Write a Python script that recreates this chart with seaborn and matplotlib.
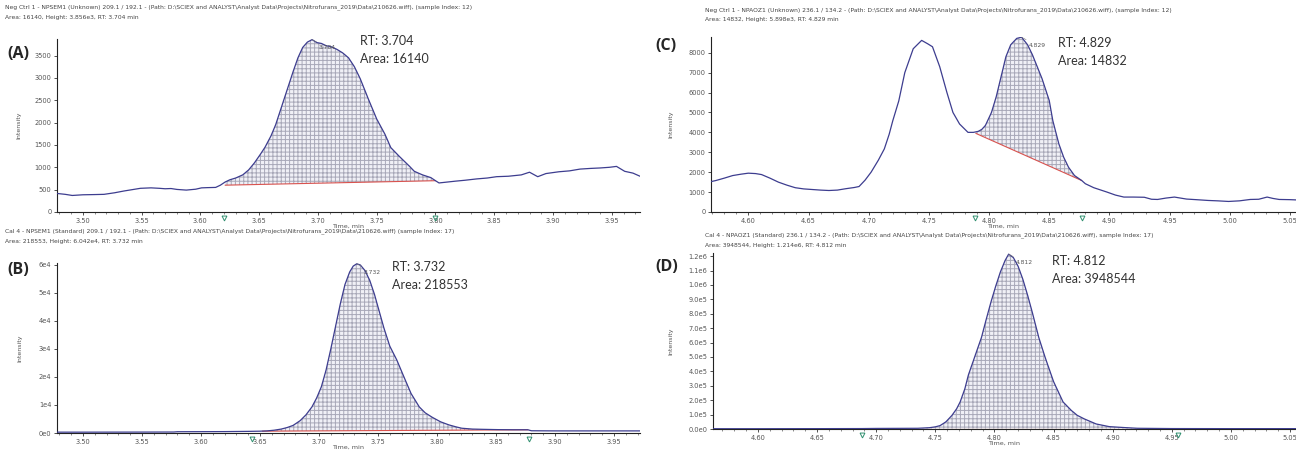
import numpy as np
import pandas as pd
import matplotlib
matplotlib.use("Agg")
import matplotlib.pyplot as plt
import matplotlib.transforms as mtransforms
import seaborn as sns
from matplotlib.ticker import MultipleLocator, AutoMinorLocator, FuncFormatter

# --- data (time [min], intensity [cps]) ---
a_trace = [(3.478, 415), (3.485, 395), (3.491, 370), (3.500, 385), (3.510, 390), (3.518, 395),
           (3.527, 430), (3.535, 470), (3.542, 500), (3.549, 530), (3.558, 540), (3.565, 530),
           (3.570, 520), (3.575, 525), (3.580, 505), (3.588, 490), (3.596, 510), (3.601, 540),
           (3.606, 545), (3.613, 550), (3.617, 600), (3.621, 670), (3.625, 720), (3.630, 760),
           (3.636, 830), (3.641, 940), (3.646, 1100), (3.651, 1290), (3.655, 1450), (3.660, 1700),
           (3.664, 1950), (3.669, 2350), (3.674, 2750), (3.679, 3150), (3.683, 3450), (3.687, 3680),
           (3.691, 3800), (3.695, 3856), (3.699, 3790), (3.703, 3770), (3.707, 3720), (3.711, 3700),
           (3.716, 3640), (3.721, 3560), (3.726, 3450), (3.731, 3250), (3.736, 2980), (3.743, 2520),
           (3.750, 2080), (3.757, 1740), (3.762, 1440), (3.769, 1250), (3.778, 1020), (3.782, 910),
           (3.789, 830), (3.796, 770), (3.800, 700), (3.803, 650), (3.810, 670), (3.817, 690),
           (3.825, 710), (3.835, 740), (3.844, 760), (3.852, 790), (3.862, 800), (3.873, 830),
           (3.880, 890), (3.887, 790), (3.894, 860), (3.905, 900), (3.914, 920), (3.923, 960),
           (3.932, 975), (3.940, 985), (3.948, 1000), (3.954, 1020), (3.961, 910), (3.968, 870),
           (3.974, 800)]

b_trace = [(3.478, 300), (3.500, 300), (3.540, 320), (3.577, 350), (3.580, 450), (3.620, 500),
           (3.640, 580), (3.650, 650), (3.656, 750), (3.662, 1000), (3.668, 1400), (3.673, 1950),
           (3.678, 2700), (3.684, 4400), (3.689, 6500), (3.694, 9300), (3.698, 12500), (3.702, 16500),
           (3.706, 22500), (3.710, 30000), (3.714, 38000), (3.718, 46000), (3.722, 53000),
           (3.726, 57500), (3.729, 59600), (3.732, 60420), (3.735, 60000), (3.739, 58000),
           (3.743, 54500), (3.747, 49500), (3.751, 43500), (3.755, 37500), (3.760, 31000),
           (3.766, 26000), (3.772, 20000), (3.778, 14100), (3.785, 9300), (3.790, 7200),
           (3.796, 5600), (3.803, 4000), (3.810, 2900), (3.816, 2200), (3.821, 1700), (3.830, 1400),
           (3.840, 1300), (3.852, 1200), (3.865, 1150), (3.877, 1150), (3.880, 800), (3.900, 750),
           (3.930, 750), (3.972, 750)]

c_trace = [(4.5615, 1530), (4.567, 1500), (4.573, 1580), (4.580, 1700), (4.587, 1830), (4.594, 1900),
           (4.600, 1950), (4.606, 1930), (4.611, 1880), (4.618, 1700), (4.625, 1500), (4.632, 1350),
           (4.639, 1220), (4.646, 1160), (4.653, 1130), (4.660, 1100), (4.667, 1080), (4.674, 1100),
           (4.681, 1170), (4.688, 1230), (4.692, 1280), (4.697, 1600), (4.702, 2000), (4.708, 2600),
           (4.713, 3170), (4.717, 3900), (4.720, 4580), (4.725, 5580), (4.730, 7000), (4.737, 8200),
           (4.744, 8620), (4.749, 8450), (4.753, 8300), (4.759, 7300), (4.765, 6000), (4.770, 5000),
           (4.7755, 4420), (4.7825, 4000), (4.787, 4000), (4.791, 4050), (4.794, 4150),
           (4.797, 4350), (4.802, 5000), (4.806, 5800), (4.810, 6800), (4.814, 7800),
           (4.818, 8400), (4.823, 8720), (4.827, 8780), (4.832, 8400), (4.836, 7900), (4.840, 7300),
           (4.844, 6700), (4.850, 5600), (4.853, 4580), (4.858, 3420), (4.862, 2750), (4.866, 2250),
           (4.871, 1830), (4.877, 1580), (4.880, 1420), (4.887, 1220), (4.898, 1000), (4.905, 850),
           (4.912, 750), (4.920, 750), (4.929, 740), (4.935, 640), (4.940, 630), (4.947, 700),
           (4.954, 750), (4.960, 690), (4.964, 650), (4.972, 620), (4.982, 580), (4.990, 560),
           (4.999, 530), (5.008, 560), (5.017, 630), (5.024, 640), (5.031, 750), (5.036, 680),
           (5.041, 630), (5.050, 620), (5.058, 600)]

d_trace = [(4.562, 2000), (4.600, 2000), (4.650, 2500), (4.688, 3000), (4.700, 4000), (4.720, 4500),
           (4.735, 5000), (4.745, 9000), (4.750, 15000), (4.754, 23500), (4.759, 50000),
           (4.764, 94000), (4.768, 140000), (4.771, 188000), (4.775, 280000), (4.778, 376000),
           (4.782, 470000), (4.785, 541000), (4.789, 635000), (4.793, 760000), (4.797, 880000),
           (4.801, 990000), (4.805, 1090000), (4.809, 1170000), (4.812, 1214000), (4.816, 1190000),
           (4.820, 1130000), (4.824, 1040000), (4.828, 930000), (4.832, 810000), (4.8375, 635000),
           (4.843, 494000), (4.850, 329000), (4.858, 188000), (4.865, 129000), (4.870, 95000),
           (4.876, 70000), (4.886, 35000), (4.897, 16500), (4.911, 9400), (4.921, 5000),
           (4.950, 3000), (5.000, 2500), (5.056, 2500)]

# integration baselines (start, end) and peak-marker positions
a_base = [(3.621, 600), (3.800, 700)]
b_base = [(3.652, 650), (3.877, 1150)]
c_base = [(4.789, 3950), (4.877, 1580)]
d_base = [(4.690, 3000), (4.955, 3000)]
a_marks = [3.620, 3.800]
b_marks = [3.643, 3.878]
c_marks = [4.788, 4.877]
d_marks = [4.688, 4.955]

panels = {
    "A": dict(trace=a_trace, base=a_base, marks=a_marks, xlim=(3.478, 3.974), ymax=3870,
              ystep=500, apex="3.704", rt="RT: 3.704", area="Area: 16140",
              title=["Neg Ctrl 1 - NPSEM1 (Unknown) 209.1 / 192.1 - (Path: D:\\SCIEX and ANALYST\\Analyst Data\\Projects\\Nitrofurans_2019\\Data\\210626.wiff), (sample Index: 12)",
                     "Area: 16140, Height: 3.856e3, RT: 3.704 min"]),
    "B": dict(trace=b_trace, base=b_base, marks=b_marks, xlim=(3.478, 3.972), ymax=60700,
              ystep=10000, apex="3.732", rt="RT: 3.732", area="Area: 218553",
              title=["Cal 4 - NPSEM1 (Standard) 209.1 / 192.1 - (Path: D:\\SCIEX and ANALYST\\Analyst Data\\Projects\\Nitrofurans_2019\\Data\\210626.wiff) (sample Index: 17)",
                     "Area: 218553, Height: 6.042e4, RT: 3.732 min"]),
    "C": dict(trace=c_trace, base=c_base, marks=c_marks, xlim=(4.569, 5.055), ymax=8790,
              ystep=1000, apex="4.829", rt="RT: 4.829", area="Area: 14832",
              title=["Neg Ctrl 1 - NPAOZ1 (Unknown) 236.1 / 134.2 - (Path: D:\\SCIEX and ANALYST\\Analyst Data\\Projects\\Nitrofurans_2019\\Data\\210626.wiff), (sample Index: 12)",
                     "Area: 14832, Height: 5.898e3, RT: 4.829 min"]),
    "D": dict(trace=d_trace, base=d_base, marks=d_marks, xlim=(4.562, 5.055), ymax=1.222e6,
              ystep=1e5, apex="4.812", rt="RT: 4.812", area="Area: 3948544",
              title=["Cal 4 - NPAOZ1 (Standard) 236.1 / 134.2 - (Path: D:\\SCIEX and ANALYST\\Analyst Data\\Projects\\Nitrofurans_2019\\Data\\210626.wiff), sample Index: 17)",
                     "Area: 3948544, Height: 1.214e6, RT: 4.812 min"]),
}

W, H = 1296, 453


def fx(x):
    return x / W


def fy(y):
    return 1 - y / H


# axes boxes in pixels: left, top, right, bottom
boxes = {"A": (57, 39, 640, 212), "B": (57, 263, 640, 433),
         "C": (711, 37, 1296, 212), "D": (713, 253, 1296, 429)}
letter_pos = {"A": (18, 54), "B": (18, 270), "C": (666, 46), "D": (667, 267)}
title_pos = {"A": (5, 7), "B": (5, 231), "C": (705, 10), "D": (705, 235)}
rt_pos = {"A": (360, 35), "B": (392, 261), "C": (1058, 37), "D": (1052, 255)}
ylab_x = {"A": 19, "B": 20, "C": 671, "D": 671}

fmt_b = FuncFormatter(lambda v, p: "0e0" if v == 0 else f"{v / 1e4:.0f}e4")
fmt_d = FuncFormatter(lambda v, p: "0.0e0" if v == 0 else (f"{v / 1e6:.1f}e6" if v >= 1e6 - 1 else f"{v / 1e5:.1f}e5"))

sns.set_style("ticks")
plt.rcParams["font.family"] = ["DejaVu Sans"]
plt.rcParams["hatch.linewidth"] = 0.7

fig = plt.figure(figsize=(W / 100, H / 100), dpi=100)
line_col = "#3d3d8f"

for key, p in panels.items():
    l, t, r, b = boxes[key]
    ax = fig.add_axes([fx(l), fy(b), fx(r) - fx(l), fy(t) - fy(b)])
    df = pd.DataFrame(p["trace"], columns=["time", "intensity"])

    # hatched integrated area between trace and baseline
    (t0, y0), (t1, y1) = p["base"]
    seg = df[(df.time >= t0) & (df.time <= t1)]
    seg_t = np.concatenate([[t0], seg.time.values, [t1]])
    seg_y = np.concatenate([[np.interp(t0, df.time, df.intensity)], seg.intensity.values,
                            [np.interp(t1, df.time, df.intensity)]])
    base_y = np.interp(seg_t, [t0, t1], [y0, y1])
    ax.fill_between(seg_t, base_y, seg_y, facecolor="#f0f0f6", edgecolor="#a8a8b8",
                    hatch="++++", linewidth=0.0, zorder=1)
    ax.plot([t0, t1], [y0, y1], color="#d9534f", lw=0.8, zorder=2)

    sns.lineplot(data=df, x="time", y="intensity", ax=ax, color=line_col, lw=0.9,
                 estimator=None, sort=False, zorder=3)

    # integration markers under the axis
    trans = mtransforms.blended_transform_factory(ax.transData, ax.transAxes)
    ax.plot(p["marks"], [-0.035] * len(p["marks"]), transform=trans, ls="none", marker="v",
            ms=3.5, mfc="none", mec="#2f8f6f", mew=0.7, clip_on=False)

    ax.set_xlim(*p["xlim"])
    ax.set_ylim(0, p["ymax"])
    ax.xaxis.set_major_locator(MultipleLocator(0.05))
    ax.xaxis.set_minor_locator(AutoMinorLocator(5))
    ax.xaxis.set_major_formatter(FuncFormatter(lambda v, pos: f"{v:.2f}"))
    ax.yaxis.set_major_locator(MultipleLocator(p["ystep"]))
    if key == "B":
        ax.yaxis.set_major_formatter(fmt_b)
    elif key == "D":
        ax.yaxis.set_major_formatter(fmt_d)
    ax.tick_params(axis="both", which="major", labelsize=4.8, labelcolor="#555555",
                   length=2.5, width=0.6, pad=1.5, color="#333333")
    ax.tick_params(axis="x", which="minor", length=1.5, width=0.4, color="#333333")
    for s in ["top", "right"]:
        ax.spines[s].set_visible(False)
    for s in ["left", "bottom"]:
        ax.spines[s].set_linewidth(0.8)
        ax.spines[s].set_color("#222222")
    ax.set_xlabel("Time, min", fontsize=4.6, color="#555555", labelpad=0)
    ax.set_ylabel("")
    ax.patch.set_alpha(0)

    # apex label
    apex_i = df.intensity.idxmax()
    at, ay = df.time[apex_i], df.intensity[apex_i]
    ax.annotate(p["apex"], (at, ay), xytext=(5, -7), textcoords="offset points",
                fontsize=4.3, color="#555555",
                arrowprops=dict(arrowstyle="-", color="#777777", lw=0.4, shrinkA=0, shrinkB=0))

    # RT / area annotation, headers, letter and y label
    rx, ry = rt_pos[key]
    fig.text(fx(rx), fy(ry), p["rt"] + "\n" + p["area"], fontsize=9,
             family=["Lato", "DejaVu Sans"], color="#333333", va="top", linespacing=1.6)
    tx, ty = title_pos[key]
    fig.text(fx(tx), fy(ty), p["title"][0], fontsize=4.3, color="#444444", va="center")
    fig.text(fx(tx), fy(ty + 10), p["title"][1], fontsize=4.3, color="#444444", va="center")
    lx, ly = letter_pos[key]
    fig.text(fx(lx), fy(ly), f"({key})", fontsize=11.5, fontweight="bold",
             family=["Open Sans", "DejaVu Sans"], ha="center", va="center")
    fig.text(fx(ylab_x[key]), fy((t + b) / 2), "Intensity", fontsize=4.5, color="#555555",
             rotation=90, ha="center", va="center")

fig.savefig("out.png", dpi=100, facecolor="white")
